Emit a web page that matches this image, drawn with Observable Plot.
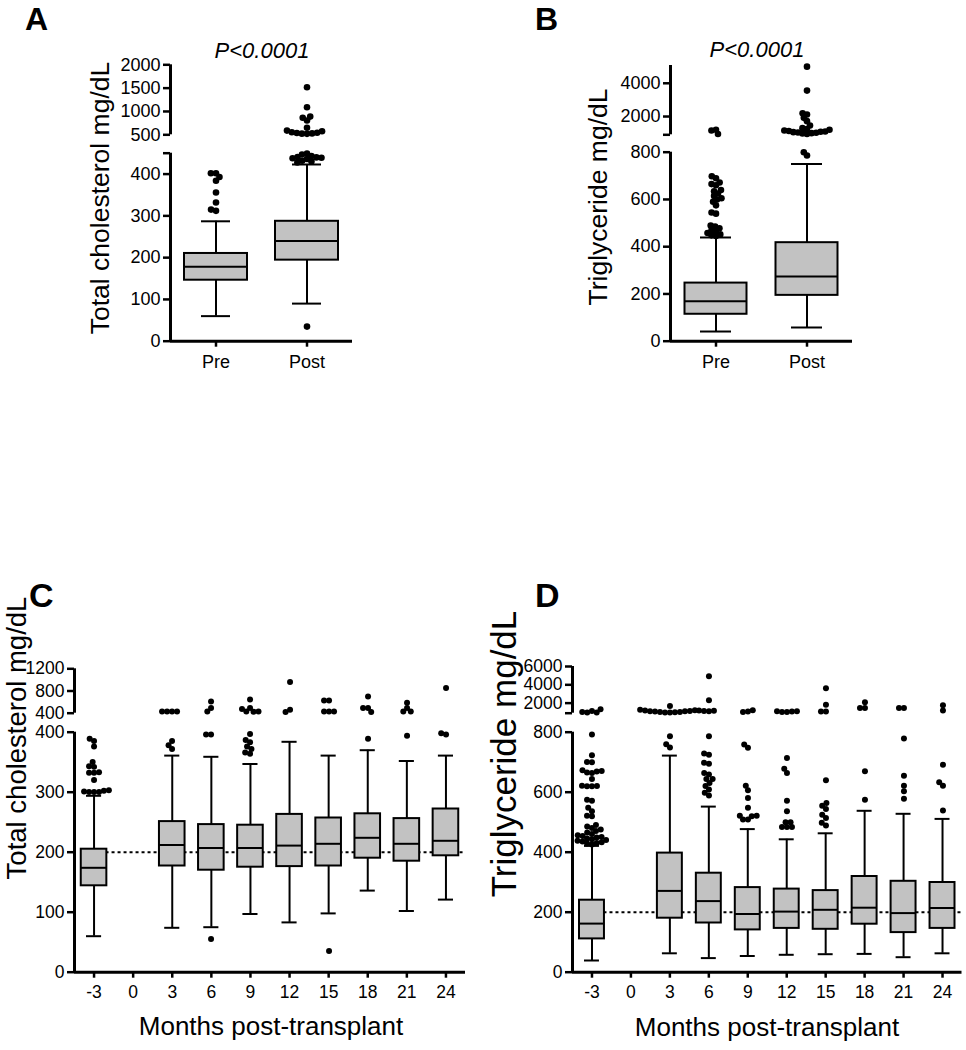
<!DOCTYPE html>
<html><head><meta charset="utf-8">
<script src="https://cdn.jsdelivr.net/npm/d3@7"></script>
<script src="https://cdn.jsdelivr.net/npm/@observablehq/plot@0.6"></script>
<style>
body{margin:0;background:#fff;}
#fig{position:relative;width:966px;height:1050px;overflow:hidden;background:#fff;}
#fig svg{position:absolute;left:0;top:0;}
</style></head><body><div id="fig"></div>
<script>
const FONT = '"Liberation Sans", Arial, Helvetica, sans-serif';

// ---------------- Panel A: total cholesterol, Pre vs Post ----------------
const groupsAB = ["Pre", "Post"];
const cholLow  = [60, 90];
const cholQ1   = [146, 194];
const cholMed  = [178, 240];
const cholQ3   = [210, 287];
const cholHigh = [287, 423];
const cholPreOut  = [402, 402, 393, 384, 356, 332, 312, 315];
const cholPostOut = [35, 449, 447, 443, 441, 440, 439, 438, 436, 432, 430, 428,
                     520, 525, 530, 540, 545, 555, 575, 590, 650, 805, 865, 890, 1090, 1520];

// ---------------- Panel B: triglyceride, Pre vs Post ----------------
const tgLow  = [41, 58];
const tgQ1   = [114, 194];
const tgMed  = [169, 274];
const tgQ3   = [246, 417];
const tgHigh = [439, 750];
const tgPreOut  = [445, 448, 452, 458, 465, 470, 478, 485, 490, 540, 545, 575, 590, 600, 605,
                   615, 625, 635, 640, 660, 665, 672, 690, 698, 1200, 1160, 950];
const tgPostOut = [786, 800, 950, 980, 1000, 1020, 1040, 1060, 1080, 1100, 1130, 1160, 1200, 1250, 1300,
                   1460, 1720, 1920, 2120, 2200, 3560, 5000];

// ---------------- Panel C: total cholesterol by month ----------------
const months = ["-3", "0", "3", "6", "9", "12", "15", "18", "21", "24"];
const boxMonths = ["-3", "3", "6", "9", "12", "15", "18", "21", "24"];
const cLow  = [60, 74, 75, 97, 83, 98, 136, 102, 121];
const cQ1   = [144, 177, 170, 175, 176, 177, 190, 185, 194];
const cMed  = [174, 212, 207, 207, 211, 214, 224, 214, 219];
const cQ3   = [205, 251, 246, 245, 263, 257, 264, 256, 272];
const cHigh = [294, 361, 359, 347, 384, 361, 370, 352, 361];
const cOutM3  = [300, 300, 300, 301, 302, 303, 320, 332, 332, 333, 342, 343, 350, 376, 385, 389];
const cOut3   = [372, 378, 385, 430, 430, 430, 430];
const cOut6   = [55, 396, 396, 610, 490, 430];
const cOut9   = [364, 366, 372, 376, 383, 387, 397, 645, 490, 430, 425, 430, 475];
const cOut12  = [960, 460, 420];
const cOut15  = [35, 625, 625, 430, 430, 430];
const cOut18  = [389, 700, 490, 490, 420];
const cOut21  = [394, 585, 490, 430, 430];
const cOut24  = [396, 398, 850];

// ---------------- Panel D: triglyceride by month ----------------
const dLow  = [39, 63, 47, 54, 58, 60, 61, 50, 63];
const dQ1   = [111, 180, 164, 141, 146, 143, 160, 132, 146];
const dMed  = [162, 271, 237, 194, 202, 208, 215, 197, 214];
const dQ3   = [240, 397, 330, 282, 277, 272, 319, 303, 299];
const dHigh = [421, 722, 552, 477, 443, 463, 538, 528, 511];
const dOutM3 = [425, 428, 430, 432, 435, 437, 440, 442, 445, 448, 450, 453, 456, 460, 465, 470, 475, 480, 485, 490,
                519, 521, 536, 547, 571, 574, 619, 619, 620, 621, 643, 663, 665, 668, 670, 672, 699, 700, 722, 792,
                1120, 950, 950, 1010, 1300];
const dOut3  = [748, 759, 786, 950, 960, 980, 1000, 1020, 1050, 1080, 1100, 1130, 1160, 1200, 1250, 1650];
const dOut6  = [588, 597, 608, 620, 630, 643, 643, 658, 663, 694, 697, 724, 728, 786, 1100, 1120, 1150, 1180, 2300, 4900];
const dOut9  = [508, 508, 519, 521, 521, 547, 580, 606, 621, 747, 758, 1050, 1000, 1200];
const dOut12 = [483, 483, 483, 499, 499, 536, 571, 663, 677, 713, 1000, 1020, 1050, 1080, 1100];
const dOut15 = [488, 497, 513, 524, 543, 554, 563, 639, 3600, 1800, 1070, 1070];
const dOut18 = [574, 669, 2075, 1440, 1440];
const dOut21 = [577, 602, 621, 654, 778, 1440, 1440];
const dOut24 = [538, 621, 632, 691, 1740, 1180];

// ---------- helpers to build tables ----------
function statsTable(cats, lo, q1, med, q3, hi) {
  return cats.map((c, i) => ({c, lo: lo[i], q1: q1[i], med: med[i], q3: q3[i], hi: hi[i]}));
}
function outTable(cats, lists) {
  return cats.flatMap((c, i) => lists[i].map(v => ({c, v})));
}

const panels = [
  { // A
    cats: groupsAB, frameLeft: 170, frameRight: 352, r: 3.3, pad: -1.5,
    boxInset: 14, capInset: 31, fontSize: 18, xpad: 14,
    stats: statsTable(groupsAB, cholLow, cholQ1, cholMed, cholQ3, cholHigh),
    outs: outTable(groupsAB, [cholPreOut, cholPostOut]),
    lower: {domain: [0, 450], px: [340.7, 152.7], ticks: [0, 100, 200, 300, 400, 450], hidden: [450]},
    upper: {domain: [500, 2000], px: [134.3, 64.3], ticks: [500, 1000, 1500, 2000], hidden: []} },
  { // B
    cats: groupsAB, frameLeft: 670, frameRight: 852, r: 3.3, pad: -2,
    boxInset: 14.5, capInset: 30, fontSize: 18, xpad: 14,
    stats: statsTable(groupsAB, tgLow, tgQ1, tgMed, tgQ3, tgHigh),
    outs: outTable(groupsAB, [tgPreOut, tgPostOut]),
    lower: {domain: [0, 800], px: [340.7, 151.7], ticks: [0, 200, 400, 600, 800], hidden: []},
    upper: {domain: [900, 5070], px: [134.3, 65], ticks: [900, 2000, 4000], hidden: [900]} },
  { // C
    cats: months, frameLeft: 74, frameRight: 465, r: 3, pad: -1, ref: 200,
    boxInset: 6.75, capInset: 12, fontSize: 17.5, xpad: 13,
    stats: statsTable(boxMonths, cLow, cQ1, cMed, cQ3, cHigh),
    outs: outTable(boxMonths, [cOutM3, cOut3, cOut6, cOut9, cOut12, cOut15, cOut18, cOut21, cOut24]),
    lower: {domain: [0, 400], px: [971.7, 731.7], ticks: [0, 100, 200, 300, 400], hidden: []},
    upper: {domain: [400, 1200], px: [712.7, 668.3], ticks: [400, 800, 1200], hidden: []} },
  { // D
    cats: months, frameLeft: 572, frameRight: 961.5, r: 3, pad: -1, ref: 200,
    boxInset: 7, capInset: 12, fontSize: 17.5, xpad: 13,
    stats: statsTable(boxMonths, dLow, dQ1, dMed, dQ3, dHigh),
    outs: outTable(boxMonths, [dOutM3, dOut3, dOut6, dOut9, dOut12, dOut15, dOut18, dOut21, dOut24]),
    lower: {domain: [0, 800], px: [971.7, 731.7], ticks: [0, 200, 400, 600, 800], hidden: []},
    upper: {domain: [900, 6000], px: [712.7, 666], ticks: [900, 2000, 4000, 6000], hidden: [900]} }
];

const fig = document.getElementById("fig");
const W = 966, H = 1050;
const baseStyle = (fs) => ({background: "transparent", fontFamily: FONT, fontSize: fs + "px", overflow: "visible", color: "black"});

// One segment (lower or upper part) of a broken axis: boxes, whiskers and axes
function segment(p, seg, isLower) {
  const fw = p.frameRight - p.frameLeft;
  const bw = fw / p.cats.length;
  const [d0, d1] = seg.domain;
  const frameH = seg.px[0] - seg.px[1];
  const marks = [];
  if (isLower && p.ref != null) {
    marks.push(Plot.ruleY([p.ref], {insetLeft: bw / 2, strokeWidth: 2, strokeDasharray: "3,3"}));
  }
  if (isLower) {
    marks.push(Plot.ruleX(p.stats, {x: "c", y1: "lo", y2: "q1", strokeWidth: 2}));
    marks.push(Plot.ruleX(p.stats, {x: "c", y1: "q3", y2: "hi", strokeWidth: 2}));
    marks.push(Plot.tickY(p.stats, {x: "c", y: "lo", insetLeft: p.capInset, insetRight: p.capInset, strokeWidth: 2}));
    marks.push(Plot.tickY(p.stats, {x: "c", y: "hi", insetLeft: p.capInset, insetRight: p.capInset, strokeWidth: 2}));
    marks.push(Plot.barY(p.stats, {x: "c", y1: "q1", y2: "q3", insetLeft: p.boxInset, insetRight: p.boxInset,
      fill: "#c2c2c2", stroke: "black", strokeWidth: 2}));
    marks.push(Plot.tickY(p.stats, {x: "c", y: "med", insetLeft: p.boxInset, insetRight: p.boxInset, strokeWidth: 2}));
    // x-axis line, ticks and labels
    marks.push(Plot.ruleY([d0], {y: d => d, strokeWidth: 3}));
    marks.push(Plot.ruleX(p.cats, {x: d => d, insetTop: frameH, insetBottom: -6, strokeWidth: 2.5}));
    marks.push(Plot.text(p.cats, {x: d => d, text: d => d, frameAnchor: "bottom", lineAnchor: "top",
      dy: p.xpad, fontSize: p.fontSize}));
  }
  // y-axis line, ticks and labels
  marks.push(Plot.ruleX([p.cats[0]], {x: d => d, y1: d0, y2: d1, dx: -bw / 2, strokeWidth: 3}));
  marks.push(Plot.ruleY(seg.ticks, {y: d => d, insetLeft: -7, insetRight: fw, strokeWidth: 2.5}));
  marks.push(Plot.text(seg.ticks.filter(t => !seg.hidden.includes(t)), {
    y: d => d, text: d => String(d), frameAnchor: "left", textAnchor: "end", dx: -10,
    fontSize: p.fontSize}));
  const svg = Plot.plot({
    width: W, height: H,
    marginLeft: p.frameLeft, marginRight: W - p.frameRight,
    marginTop: seg.px[1], marginBottom: H - seg.px[0],
    style: baseStyle(p.fontSize),
    x: {type: "band", domain: p.cats, padding: 0, round: false, axis: null},
    y: {domain: seg.domain, axis: null},
    marks
  });
  fig.appendChild(svg);
}

// Outliers of each category in one segment, spread sideways with the dodge transform
function outliers(p, seg, isLower) {
  const fw = p.frameRight - p.frameLeft;
  const bw = fw / p.cats.length;
  const lowerMax = p.lower.domain[1];
  p.cats.forEach((cat, i) => {
    const data = p.outs.filter(d => d.c === cat && (isLower ? d.v <= lowerMax : d.v > lowerMax));
    if (!data.length) return;
    const svg = Plot.plot({
      width: bw, height: H,
      marginLeft: 0, marginRight: 0,
      marginTop: seg.px[1], marginBottom: H - seg.px[0],
      style: baseStyle(p.fontSize),
      y: {domain: seg.domain, axis: null},
      marks: [Plot.dot(data, Plot.dodgeX({anchor: "middle", padding: p.pad, r: p.r},
        {y: "v", r: p.r, fill: "black"}))]
    });
    svg.style.left = (p.frameLeft + i * bw) + "px";
    svg.style.top = "0px";
    svg.style.position = "absolute";
    fig.appendChild(svg);
  });
}

for (const p of panels) {
  segment(p, p.lower, true);
  segment(p, p.upper, false);
}
for (const p of panels) {
  outliers(p, p.lower, true);
  outliers(p, p.upper, false);
}

// ---------- panel letters, titles and axis labels ----------
const ann = d3.select(fig).append("svg").attr("width", W).attr("height", H)
  .style("font-family", FONT).style("overflow", "visible");
function txt(s, x, y, o = {}) {
  const t = ann.append("text").text(s).attr("x", x).attr("y", y)
    .attr("font-size", o.size || 26).attr("text-anchor", o.anchor || "middle")
    .attr("font-weight", o.weight || "normal").attr("font-style", o.style || "normal");
  if (o.rotate) t.attr("transform", `rotate(-90 ${x} ${y})`).attr("dominant-baseline", "central");
  return t;
}
txt("A", 25, 30, {size: 32, weight: "bold", anchor: "start"});
txt("B", 535, 30, {size: 32, weight: "bold", anchor: "start"});
txt("C", 29, 607, {size: 34, weight: "bold", anchor: "start"});
txt("D", 535, 607, {size: 34, weight: "bold", anchor: "start"});
txt("P<0.0001", 262, 58, {size: 22, style: "italic"});
txt("P<0.0001", 757, 57, {size: 22, style: "italic"});
txt("Total cholesterol mg/dL", 100, 198, {size: 26.5, rotate: true});
txt("Triglyceride mg/dL", 598, 197, {size: 26.5, rotate: true});
txt("Total cholesterol mg/dL", 16, 738, {size: 27.5, rotate: true});
txt("Triglyceride mg/dL", 503, 754, {size: 35, rotate: true});
txt("Months post-transplant", 271, 1035, {size: 26});
txt("Months post-transplant", 767, 1036, {size: 26});
</script></body></html>
